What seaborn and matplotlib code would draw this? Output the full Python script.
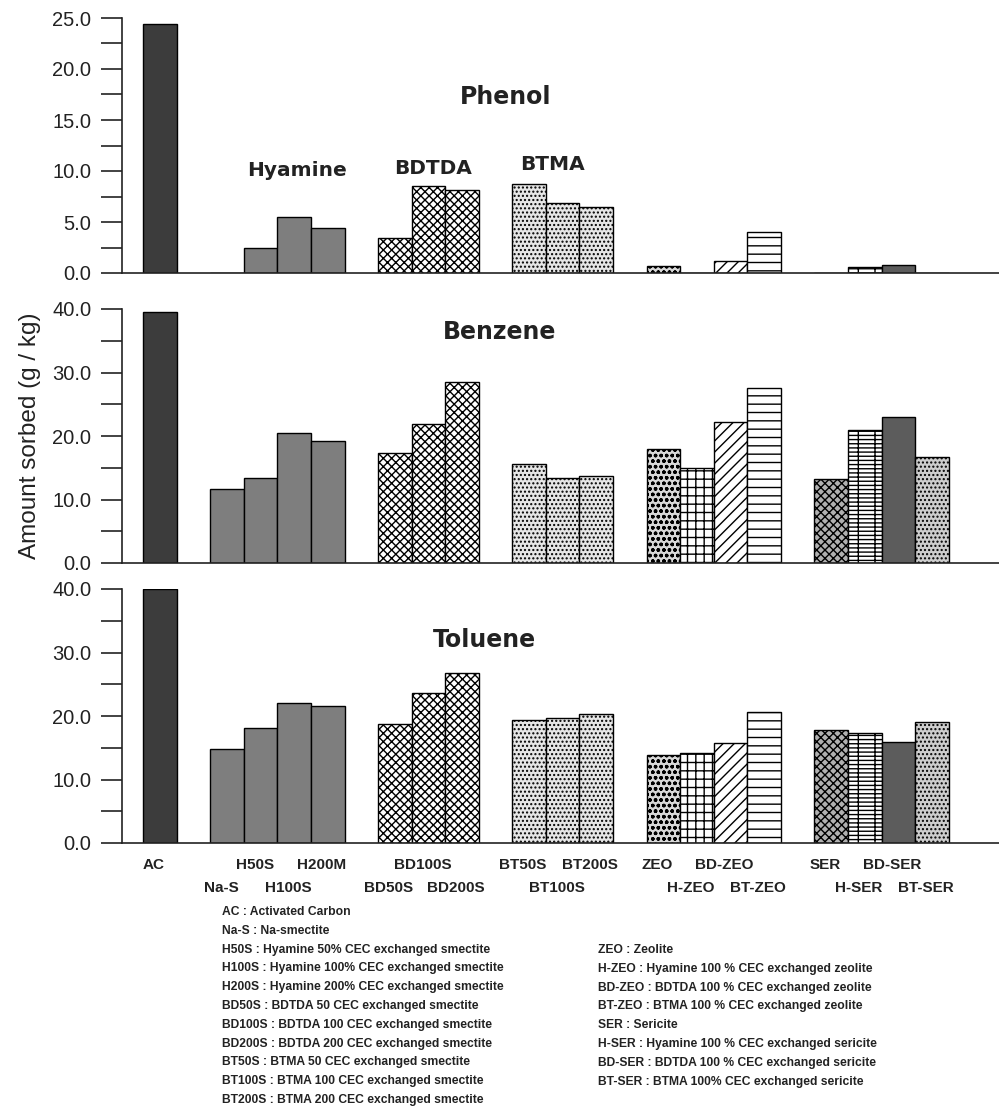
import pandas as pd
import matplotlib
matplotlib.use("Agg")
import matplotlib.pyplot as plt
import seaborn as sns
from matplotlib.ticker import MultipleLocator, FormatStrFormatter

sns.set_style("white")
plt.rcParams["font.family"] = ["Liberation Sans", "DejaVu Sans"]
plt.rcParams["hatch.linewidth"] = 1.0

# sorbents, in plotting order
materials = ["AC", "Na-S", "H50S", "H100S", "H200S", "BD50S", "BD100S", "BD200S",
             "BT50S", "BT100S", "BT200S", "ZEO", "H-ZEO", "BD-ZEO", "BT-ZEO",
             "SER", "H-SER", "BD-SER", "BT-SER"]
tick_labels = ["AC", "Na-S", "H50S", "H100S", "H200M", "BD50S", "BD100S", "BD200S",
               "BT50S", "BT100S", "BT200S", "ZEO", "H-ZEO", "BD-ZEO", "BT-ZEO",
               "SER", "H-SER", "BD-SER", "BT-SER"]
tick_row = [0, 1, 0, 1, 0, 1, 0, 1, 0, 1, 0, 0, 1, 0, 1, 0, 1, 0, 1]
groups = [["AC"], ["Na-S", "H50S", "H100S", "H200S"], ["BD50S", "BD100S", "BD200S"],
          ["BT50S", "BT100S", "BT200S"], ["ZEO", "H-ZEO", "BD-ZEO", "BT-ZEO"],
          ["SER", "H-SER", "BD-SER", "BT-SER"]]

# amount sorbed (g/kg)
phenol = [24.4, 0.0, 2.5, 5.5, 4.4, 3.4, 8.5, 8.1, 8.7, 6.9, 6.5,
          0.7, 0.0, 1.2, 4.0, 0.0, 0.6, 0.8, 0.0]
benzene = [39.5, 11.7, 13.4, 20.5, 19.2, 17.3, 21.9, 28.5, 15.6, 13.4, 13.7,
           18.0, 15.0, 22.2, 27.6, 13.2, 20.9, 23.0, 16.7]
toluene = [40.0, 14.8, 18.1, 22.0, 21.6, 18.7, 23.6, 26.8, 19.4, 19.7, 20.3,
           13.9, 14.2, 15.7, 20.6, 17.8, 17.3, 15.9, 19.1]

# fill colour and hatch for each sorbent
styles = {
    "AC": ("#3c3c3c", ""),
    "Na-S": ("#7e7e7e", ""), "H50S": ("#7e7e7e", ""),
    "H100S": ("#7e7e7e", ""), "H200S": ("#7e7e7e", ""),
    "BD50S": ("white", "xxxx"), "BD100S": ("white", "xxxx"), "BD200S": ("white", "xxxx"),
    "BT50S": ("#e6e6e6", "...."), "BT100S": ("#e6e6e6", "...."), "BT200S": ("#e6e6e6", "...."),
    "ZEO": ("#d8d8d8", "ooo"), "H-ZEO": ("white", "++"),
    "BD-ZEO": ("white", "///"), "BT-ZEO": ("white", "--"),
    "SER": ("#b0b0b0", "xxxx"), "H-SER": ("white", "----|"),
    "BD-SER": ("#5c5c5c", ""), "BT-SER": ("#cdcdcd", "...."),
}

legend_left = [
    "AC : Activated Carbon",
    "Na-S : Na-smectite",
    "H50S : Hyamine 50% CEC exchanged smectite",
    "H100S : Hyamine 100% CEC exchanged smectite",
    "H200S : Hyamine 200% CEC exchanged smectite",
    "BD50S : BDTDA 50 CEC exchanged smectite",
    "BD100S : BDTDA 100 CEC exchanged smectite",
    "BD200S : BDTDA 200 CEC exchanged smectite",
    "BT50S : BTMA 50 CEC exchanged smectite",
    "BT100S : BTMA 100 CEC exchanged smectite",
    "BT200S : BTMA 200 CEC exchanged smectite",
]
legend_right = [
    "ZEO : Zeolite",
    "H-ZEO : Hyamine 100 % CEC exchanged zeolite",
    "BD-ZEO : BDTDA 100 % CEC exchanged zeolite",
    "BT-ZEO : BTMA 100 % CEC exchanged zeolite",
    "SER : Sericite",
    "H-SER : Hyamine 100 % CEC exchanged sericite",
    "BD-SER : BDTDA 100 % CEC exchanged sericite",
    "BT-SER : BTMA 100% CEC exchanged sericite",
]

# category order with one empty slot between groups
order = []
for i, g in enumerate(groups):
    if i > 0:
        order.append(f"_gap{i}")
    order.extend(g)
slot = {m: order.index(m) for m in materials}

df = pd.DataFrame({"material": materials * 3,
                   "value": phenol + benzene + toluene,
                   "compound": ["Phenol"] * 19 + ["Benzene"] * 19 + ["Toluene"] * 19})

fig = plt.figure(figsize=(9.99, 11.10), dpi=100)
W, H = 999, 1110
panels = [("Phenol", 273, 18, 25, 5), ("Benzene", 563, 309, 40, 10), ("Toluene", 843, 589, 40, 10)]
ink = "#222222"

axes = []
for name, ybot, ytop, ymax, step in panels:
    ax = fig.add_axes([122 / W, 1 - ybot / H, 1 - 122 / W, (ybot - ytop) / H])
    sub = df[df["compound"] == name]
    sns.barplot(data=sub, x="material", y="value", order=order, width=1.0,
                color="white", edgecolor="black", linewidth=1.0, ax=ax)
    for p in ax.patches:
        idx = int(round(p.get_x() + p.get_width() / 2))
        fc, hatch = styles[order[idx]]
        p.set_facecolor(fc)
        p.set_hatch(hatch)
        p.set_edgecolor("black")
    ax.set_xlim(-1.13, 25.0)
    ax.set_ylim(0, ymax)
    sns.despine(ax=ax)
    for side in ["left", "bottom"]:
        ax.spines[side].set_color(ink)
        ax.spines[side].set_linewidth(1.2)
    ax.yaxis.set_major_locator(MultipleLocator(step))
    ax.yaxis.set_minor_locator(MultipleLocator(step / 2))
    ax.yaxis.set_major_formatter(FormatStrFormatter("%.1f"))
    ax.tick_params(axis="y", which="both", direction="out", length=15, width=1.2,
                   color=ink, left=True, pad=7, labelsize=14.5, labelcolor=ink)
    ax.set_xticks([])
    ax.set_xlabel("")
    ax.set_ylabel("")
    axes.append(ax)

# two-row x labels under the bottom panel
ax = axes[-1]
trans = ax.get_xaxis_transform()
for m, t, r in zip(materials, tick_labels, tick_row):
    ax.text(slot[m] - 0.18, -0.087 if r == 0 else -0.177, t, transform=trans,
            ha="center", va="center", fontsize=11, fontweight="bold", color=ink)

# panel titles
title_font = dict(ha="center", va="center", fontweight="bold", color=ink, family="DejaVu Sans")
fig.text(506 / W, 1 - 97 / H, "Phenol", fontsize=17, **title_font)
fig.text(297 / W, 1 - 170 / H, "Hyamine", fontsize=14.5, **title_font)
fig.text(433 / W, 1 - 168 / H, "BDTDA", fontsize=14.5, **title_font)
fig.text(553 / W, 1 - 165 / H, "BTMA", fontsize=14.5, **title_font)
fig.text(500 / W, 1 - 332 / H, "Benzene", fontsize=17, **title_font)
fig.text(484 / W, 1 - 640 / H, "Toluene", fontsize=17, **title_font)

fig.text(30 / W, 1 - 436 / H, "Amount sorbed (g / kg)", rotation=90, ha="center", va="center",
         fontsize=17.5, color=ink)

# abbreviation key
for i, line in enumerate(legend_left):
    fig.text(222 / W, 1 - (912 + i * 18.8) / H, line, ha="left", va="center",
             fontsize=8.7, fontweight="bold", color=ink)
for i, line in enumerate(legend_right):
    fig.text(598 / W, 1 - (950 + i * 18.8) / H, line, ha="left", va="center",
             fontsize=8.7, fontweight="bold", color=ink)

fig.savefig("out.png", dpi=100)
